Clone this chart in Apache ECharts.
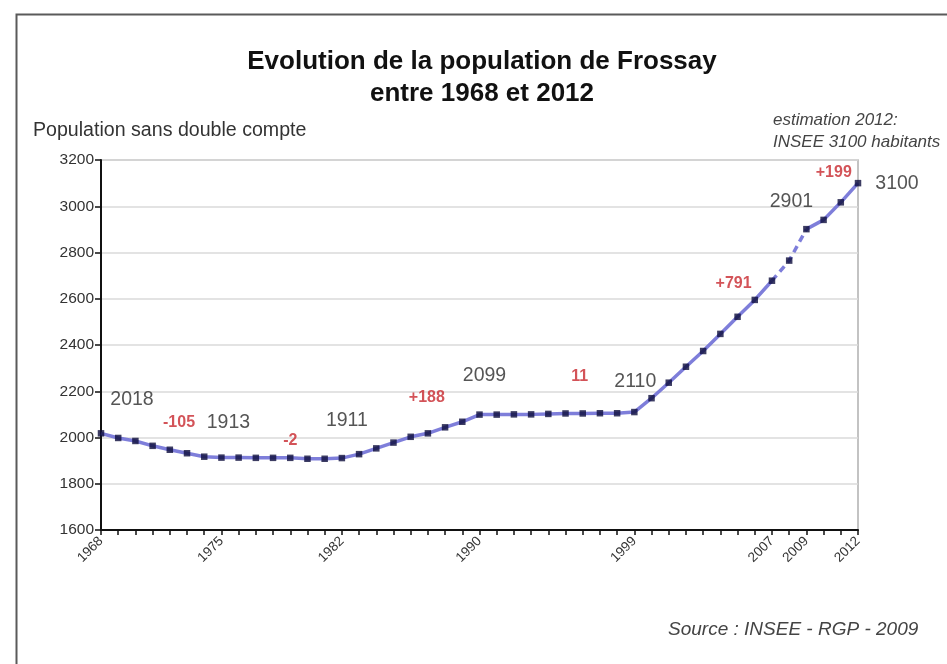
<!DOCTYPE html>
<html>
<head>
<meta charset="utf-8">
<script src="https://cdn.jsdelivr.net/npm/echarts@6/dist/echarts.min.js"></script>
<style>
  html, body { margin: 0; padding: 0; background: #fff; }
  #chart { width: 947px; height: 664px; }
</style>
</head>
<body>
<div id="chart"></div>
<script>
// Recensements et estimations annuelles, Frossay 1968-2012
const years = [
  1968, 1969, 1970, 1971, 1972, 1973, 1974, 1975, 1976, 1977,
  1978, 1979, 1980, 1981, 1982, 1983, 1984, 1985, 1986, 1987,
  1988, 1989, 1990, 1991, 1992, 1993, 1994, 1995, 1996, 1997,
  1998, 1999, 2000, 2001, 2002, 2003, 2004, 2005, 2006, 2007,
  2008, 2009, 2010, 2011, 2012
];
const population = [
  2018, 1998, 1985, 1964, 1947, 1932, 1917, 1913, 1913, 1912,
  1912, 1912, 1908, 1908, 1911, 1928, 1953, 1978, 2003, 2018,
  2044, 2068, 2099, 2099, 2100, 2100, 2102, 2104, 2104, 2105,
  2105, 2110, 2170, 2237, 2306, 2374, 2448, 2522, 2595, 2678,
  2765, 2901, 2941, 3017, 3100
];
// Années dont la valeur est affichée, et années repères de l'axe
const valueLabelYears = [1968, 1975, 1982, 1990, 1999, 2009, 2012];
const axisLabelYears = ['1968', '1975', '1982', '1990', '1999', '2007', '2009', '2012'];
// Évolutions entre deux recensements (texte rouge)
const changeYears = [1973, 1979, 1987, 1996, 2005, 2011];
const changeTexts = ['-105', '-2', '+188', '11', '+791', '+199'];
// Tronçon estimé tracé en pointillés
const dashedFrom = 2007, dashedTo = 2009;
const yTicks = { min: 1600, max: 3200, step: 200 };

// Décalages des étiquettes (px) par rapport au point
const labelOffsets = {
  1968: [31, -34], 1973: [-8, -31], 1975: [7, -35], 1979: [0, -17],
  1982: [5, -37], 1987: [-1, -36], 1990: [5, -39], 1996: [-3, -37],
  1999: [1, -30], 2005: [-4, -33], 2009: [-15, -28], 2011: [-7, -30],
  2012: [39, 0]
};

const font = 'Liberation Sans, Arial, sans-serif';
const cats = years.map(String);
const solidData = population.map((v, i) =>
  (years[i] > dashedFrom && years[i] < dashedTo) ? '-' : v);
const dashedData = population.map((v, i) =>
  (years[i] >= dashedFrom && years[i] <= dashedTo) ? v : '-');

const pointData = population.map((v, i) => {
  const y = years[i];
  const item = { value: v };
  const vi = valueLabelYears.indexOf(y);
  const ci = changeYears.indexOf(y);
  if (vi >= 0) {
    item.label = {
      show: true, position: 'inside', offset: labelOffsets[y],
      formatter: String(v), color: '#2a2a2a', fontSize: 19.5, fontFamily: font
    };
  } else if (ci >= 0) {
    item.label = {
      show: true, position: 'inside', offset: labelOffsets[y],
      formatter: changeTexts[ci], color: '#c8282e', fontSize: 16,
      fontWeight: 'bold', fontFamily: font
    };
  }
  return item;
});

const chart = echarts.init(document.getElementById('chart'), null, { renderer: 'canvas' });

chart.setOption({
  animation: false,
  backgroundColor: '#ffffff',
  title: {
    text: 'Evolution de la population de Frossay\nentre 1968 et 2012',
    left: 477, top: 41, textAlign: 'center',
    textStyle: { fontSize: 26, fontWeight: 'bold', color: '#111', fontFamily: font, lineHeight: 32 }
  },
  grid: {
    left: 101, right: 89, top: 160, bottom: 134,
    show: true, borderColor: '#b0b0b0', borderWidth: 1.5, backgroundColor: '#fff'
  },
  xAxis: {
    type: 'category', data: cats, boundaryGap: false,
    axisLine: { lineStyle: { color: '#111', width: 2 } },
    axisTick: { show: true, interval: 0, length: 5, inside: false, lineStyle: { color: '#111', width: 1.5 } },
    axisLabel: {
      interval: (idx, val) => axisLabelYears.indexOf(val) >= 0,
      rotate: 45, margin: 9, color: '#333', fontSize: 13.5, fontFamily: font
    },
    splitLine: { show: false }
  },
  yAxis: {
    type: 'value', min: yTicks.min, max: yTicks.max, interval: yTicks.step,
    name: 'Population sans double compte',
    nameLocation: 'end', nameGap: 19,
    nameTextStyle: { align: 'left', padding: [0, 0, 0, -68], fontSize: 19.6, color: '#333', fontFamily: font },
    axisLine: { show: true, lineStyle: { color: '#111', width: 2 } },
    axisTick: { show: true, length: 6, lineStyle: { color: '#111', width: 1.5 } },
    axisLabel: { color: '#333', fontSize: 15.5, margin: 7, fontFamily: font, formatter: v => String(v) },
    splitLine: { lineStyle: { color: '#dadada', width: 1.5 } }
  },
  series: [
    {
      name: 'population', type: 'line', data: solidData,
      showSymbol: false, connectNulls: false,
      lineStyle: { color: '#7070d6', width: 3.5, opacity: 0.9 },
      z: 2
    },
    {
      name: 'estimation', type: 'line', data: dashedData,
      showSymbol: false,
      lineStyle: { color: '#7070d6', width: 3.5, type: [7, 5], opacity: 0.9 },
      z: 2
    },
    {
      name: 'points', type: 'scatter', data: pointData,
      symbol: 'rect', symbolSize: 6.5,
      itemStyle: { color: '#0c0c3c' },
      z: 3
    }
  ],
  graphic: [
    {
      type: 'rect', left: 14, top: 12, z: -1,
      shape: { width: 1000, height: 720 },
      style: { fill: 'none', stroke: '#5a5a5a', lineWidth: 2 }
    },
    {
      type: 'text', left: 773, top: 109,
      style: {
        text: 'estimation 2012:\nINSEE 3100 habitants', fill: '#444',
        font: 'italic 17px "Liberation Sans", Arial, sans-serif', lineHeight: 22
      }
    },
    {
      type: 'text', left: 668, top: 620,
      style: {
        text: 'Source : INSEE - RGP - 2009', fill: '#444',
        font: 'italic 19px "Liberation Sans", Arial, sans-serif'
      }
    }
  ]
});
</script>
</body>
</html>
